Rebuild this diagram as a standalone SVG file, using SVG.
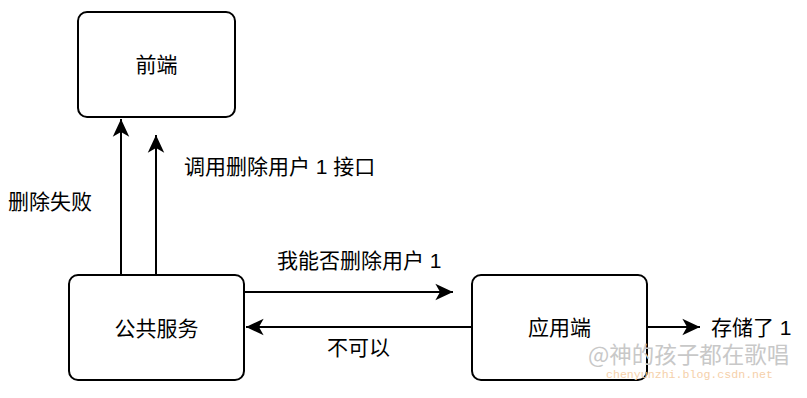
<svg xmlns="http://www.w3.org/2000/svg" width="807" height="398" viewBox="0 0 807 398">
<style>
.box{fill:#fff;stroke:#000;stroke-width:2}
.t{font-family:"Liberation Sans","Noto Sans CJK SC",sans-serif;font-size:21px;fill:#000}
.c{text-anchor:middle}
.e{fill:none;stroke:#000;stroke-width:2}
</style>
<defs>
<marker id="ah" markerUnits="userSpaceOnUse" markerWidth="20" markerHeight="20" viewBox="-16 -8 17 16" refX="0" refY="0" orient="auto">
<path d="M0,0 L-15,-7 L-11,0 L-15,7 Z" fill="#000"/>
</marker>
</defs>
<rect width="807" height="398" fill="#fff"/>
<g id="connectors">
<line class="e" x1="121" y1="275" x2="121" y2="119" marker-end="url(#ah)"/>
<line class="e" x1="156" y1="275" x2="156" y2="135" marker-end="url(#ah)"/>
<line class="e" x1="244" y1="292" x2="453" y2="292" marker-end="url(#ah)"/>
<line class="e" x1="472" y1="327" x2="246" y2="327" marker-end="url(#ah)"/>
<line class="e" x1="647" y1="327" x2="700" y2="327" marker-end="url(#ah)"/>
<text class="t" x="8" y="209">删除失败</text>
<text class="t" x="184" y="174">调用删除用户 1 接口</text>
<text class="t" x="277" y="268">我能否删除用户 1</text>
<text class="t" x="327" y="355">不可以</text>
<text class="t" x="711" y="335">存储了 1</text>
</g>
<g id="frontend">
<rect class="box" x="78" y="12" width="157" height="105" rx="9"/>
<text class="t c" x="156.5" y="72">前端</text>
</g>
<g id="public-service">
<rect class="box" x="69" y="275" width="175" height="105" rx="9"/>
<text class="t c" x="156.5" y="336">公共服务</text>
</g>
<g id="app">
<rect class="box" x="472" y="275" width="175" height="105" rx="9"/>
<text class="t c" x="559.5" y="335">应用端</text>
</g>
<text x="588" y="363" font-family="Noto Sans CJK SC,Liberation Sans,sans-serif" font-size="22.5" fill="#c8c8c8">@神的孩子都在歌唱</text>
<text x="606" y="378" font-family="Liberation Mono,monospace" font-size="11.6" fill="#f5d0aa">chenyunzhi.blog.csdn.net</text>
</svg>
